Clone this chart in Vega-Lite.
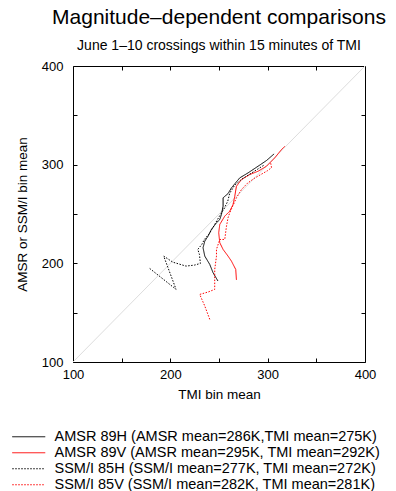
{
  "$schema": "https://vega.github.io/schema/vega-lite/v6.json",
  "width": 292,
  "height": 296,
  "autosize": {"type": "none"},
  "padding": {"left": 73, "top": 66, "right": 31, "bottom": 129},
  "background": "white",
  "config": {
    "font": "Liberation Sans",
    "view": {"stroke": "black", "strokeWidth": 1},
    "axis": {"grid": false, "domain": false, "labelFont": "Liberation Sans", "titleFont": "Liberation Sans", "labelColor": "black", "titleColor": "black", "tickColor": "black", "titleFontWeight": "normal"}
  },
  "title": {
    "text": "Magnitude–dependent comparisons",
    "subtitle": "June 1–10 crossings within 15 minutes of TMI",
    "fontSize": 21,
    "fontWeight": "normal",
    "subtitleFontSize": 14,
    "subtitleFont": "Liberation Sans",
    "color": "black",
    "subtitleColor": "black",
    "anchor": "middle",
    "offset": 7,
    "subtitlePadding": 11
  },
  "datasets": {
    "diag": [{"t": 100, "v": 100}, {"t": 400, "v": 400}],
    "series": [
      {"s": "AMSR 89H (AMSR mean=286K,TMI mean=275K)", "i": 1, "t": 248.9, "v": 182.1},
      {"s": "AMSR 89H (AMSR mean=286K,TMI mean=275K)", "i": 2, "t": 243.9, "v": 190.5},
      {"s": "AMSR 89H (AMSR mean=286K,TMI mean=275K)", "i": 3, "t": 240.5, "v": 198.9},
      {"s": "AMSR 89H (AMSR mean=286K,TMI mean=275K)", "i": 4, "t": 235.4, "v": 207.3},
      {"s": "AMSR 89H (AMSR mean=286K,TMI mean=275K)", "i": 5, "t": 233.6, "v": 215.8},
      {"s": "AMSR 89H (AMSR mean=286K,TMI mean=275K)", "i": 6, "t": 235.4, "v": 222.5},
      {"s": "AMSR 89H (AMSR mean=286K,TMI mean=275K)", "i": 7, "t": 238.7, "v": 227.5},
      {"s": "AMSR 89H (AMSR mean=286K,TMI mean=275K)", "i": 8, "t": 242.2, "v": 234.3},
      {"s": "AMSR 89H (AMSR mean=286K,TMI mean=275K)", "i": 9, "t": 247.4, "v": 241.1},
      {"s": "AMSR 89H (AMSR mean=286K,TMI mean=275K)", "i": 10, "t": 250.8, "v": 244.4},
      {"s": "AMSR 89H (AMSR mean=286K,TMI mean=275K)", "i": 11, "t": 252.5, "v": 249.5},
      {"s": "AMSR 89H (AMSR mean=286K,TMI mean=275K)", "i": 12, "t": 254.2, "v": 257.9},
      {"s": "AMSR 89H (AMSR mean=286K,TMI mean=275K)", "i": 13, "t": 254.2, "v": 266.4},
      {"s": "AMSR 89H (AMSR mean=286K,TMI mean=275K)", "i": 14, "t": 259.3, "v": 270.7},
      {"s": "AMSR 89H (AMSR mean=286K,TMI mean=275K)", "i": 15, "t": 262.8, "v": 276.5},
      {"s": "AMSR 89H (AMSR mean=286K,TMI mean=275K)", "i": 16, "t": 271.3, "v": 286.6},
      {"s": "AMSR 89H (AMSR mean=286K,TMI mean=275K)", "i": 17, "t": 279.9, "v": 291.7},
      {"s": "AMSR 89H (AMSR mean=286K,TMI mean=275K)", "i": 18, "t": 290.1, "v": 298.4},
      {"s": "AMSR 89H (AMSR mean=286K,TMI mean=275K)", "i": 19, "t": 298.8, "v": 304.2},
      {"s": "AMSR 89H (AMSR mean=286K,TMI mean=275K)", "i": 20, "t": 306.6, "v": 310.9},

      {"s": "AMSR 89V (AMSR mean=295K, TMI mean=292K)", "i": 1, "t": 267.9, "v": 183.3},
      {"s": "AMSR 89V (AMSR mean=295K, TMI mean=292K)", "i": 2, "t": 267.2, "v": 193.8},
      {"s": "AMSR 89V (AMSR mean=295K, TMI mean=292K)", "i": 3, "t": 262.8, "v": 202.2},
      {"s": "AMSR 89V (AMSR mean=295K, TMI mean=292K)", "i": 4, "t": 259.3, "v": 207.3},
      {"s": "AMSR 89V (AMSR mean=295K, TMI mean=292K)", "i": 5, "t": 254.2, "v": 214.1},
      {"s": "AMSR 89V (AMSR mean=295K, TMI mean=292K)", "i": 6, "t": 250.8, "v": 220.9},
      {"s": "AMSR 89V (AMSR mean=295K, TMI mean=292K)", "i": 7, "t": 249.7, "v": 231.0},
      {"s": "AMSR 89V (AMSR mean=295K, TMI mean=292K)", "i": 8, "t": 250.8, "v": 239.4},
      {"s": "AMSR 89V (AMSR mean=295K, TMI mean=292K)", "i": 9, "t": 255.9, "v": 247.8},
      {"s": "AMSR 89V (AMSR mean=295K, TMI mean=292K)", "i": 10, "t": 261.0, "v": 252.8},
      {"s": "AMSR 89V (AMSR mean=295K, TMI mean=292K)", "i": 11, "t": 264.4, "v": 259.6},
      {"s": "AMSR 89V (AMSR mean=295K, TMI mean=292K)", "i": 12, "t": 266.2, "v": 268.0},
      {"s": "AMSR 89V (AMSR mean=295K, TMI mean=292K)", "i": 13, "t": 267.9, "v": 278.1},
      {"s": "AMSR 89V (AMSR mean=295K, TMI mean=292K)", "i": 14, "t": 273.1, "v": 284.9},
      {"s": "AMSR 89V (AMSR mean=295K, TMI mean=292K)", "i": 15, "t": 281.6, "v": 290.0},
      {"s": "AMSR 89V (AMSR mean=295K, TMI mean=292K)", "i": 16, "t": 290.1, "v": 293.3},
      {"s": "AMSR 89V (AMSR mean=295K, TMI mean=292K)", "i": 17, "t": 298.8, "v": 298.4},
      {"s": "AMSR 89V (AMSR mean=295K, TMI mean=292K)", "i": 18, "t": 307.3, "v": 306.9},
      {"s": "AMSR 89V (AMSR mean=295K, TMI mean=292K)", "i": 19, "t": 314.2, "v": 315.3},
      {"s": "AMSR 89V (AMSR mean=295K, TMI mean=292K)", "i": 20, "t": 317.6, "v": 318.6},

      {"s": "SSM/I 85H (SSM/I mean=277K, TMI mean=272K)", "i": 1, "t": 178.8, "v": 194.8},
      {"s": "SSM/I 85H (SSM/I mean=277K, TMI mean=272K)", "i": 2, "t": 205.9, "v": 173.6},
      {"s": "SSM/I 85H (SSM/I mean=277K, TMI mean=272K)", "i": 3, "t": 193.2, "v": 207.3},
      {"s": "SSM/I 85H (SSM/I mean=277K, TMI mean=272K)", "i": 4, "t": 202.5, "v": 201.2},
      {"s": "SSM/I 85H (SSM/I mean=277K, TMI mean=272K)", "i": 5, "t": 216.1, "v": 197.2},
      {"s": "SSM/I 85H (SSM/I mean=277K, TMI mean=272K)", "i": 6, "t": 224.8, "v": 198.2},
      {"s": "SSM/I 85H (SSM/I mean=277K, TMI mean=272K)", "i": 7, "t": 230.9, "v": 199.9},
      {"s": "SSM/I 85H (SSM/I mean=277K, TMI mean=272K)", "i": 8, "t": 229.9, "v": 209.0},
      {"s": "SSM/I 85H (SSM/I mean=277K, TMI mean=272K)", "i": 9, "t": 228.2, "v": 214.1},
      {"s": "SSM/I 85H (SSM/I mean=277K, TMI mean=272K)", "i": 10, "t": 232.3, "v": 219.1},
      {"s": "SSM/I 85H (SSM/I mean=277K, TMI mean=272K)", "i": 11, "t": 235.0, "v": 224.2},
      {"s": "SSM/I 85H (SSM/I mean=277K, TMI mean=272K)", "i": 12, "t": 240.0, "v": 230.0},
      {"s": "SSM/I 85H (SSM/I mean=277K, TMI mean=272K)", "i": 13, "t": 245.6, "v": 239.4},
      {"s": "SSM/I 85H (SSM/I mean=277K, TMI mean=272K)", "i": 14, "t": 250.0, "v": 247.0},
      {"s": "SSM/I 85H (SSM/I mean=277K, TMI mean=272K)", "i": 15, "t": 255.0, "v": 255.0},
      {"s": "SSM/I 85H (SSM/I mean=277K, TMI mean=272K)", "i": 16, "t": 259.0, "v": 263.0},
      {"s": "SSM/I 85H (SSM/I mean=277K, TMI mean=272K)", "i": 17, "t": 261.0, "v": 271.0},
      {"s": "SSM/I 85H (SSM/I mean=277K, TMI mean=272K)", "i": 18, "t": 266.0, "v": 279.0},
      {"s": "SSM/I 85H (SSM/I mean=277K, TMI mean=272K)", "i": 19, "t": 273.0, "v": 285.0},
      {"s": "SSM/I 85H (SSM/I mean=277K, TMI mean=272K)", "i": 20, "t": 281.0, "v": 290.0},
      {"s": "SSM/I 85H (SSM/I mean=277K, TMI mean=272K)", "i": 21, "t": 289.0, "v": 295.0},
      {"s": "SSM/I 85H (SSM/I mean=277K, TMI mean=272K)", "i": 22, "t": 297.0, "v": 300.0},

      {"s": "SSM/I 85V (SSM/I mean=282K, TMI mean=281K)", "i": 1, "t": 240.5, "v": 143.2},
      {"s": "SSM/I 85V (SSM/I mean=282K, TMI mean=281K)", "i": 2, "t": 235.4, "v": 156.7},
      {"s": "SSM/I 85V (SSM/I mean=282K, TMI mean=281K)", "i": 3, "t": 230.2, "v": 168.5},
      {"s": "SSM/I 85V (SSM/I mean=282K, TMI mean=281K)", "i": 4, "t": 238.7, "v": 170.9},
      {"s": "SSM/I 85V (SSM/I mean=282K, TMI mean=281K)", "i": 5, "t": 245.6, "v": 173.6},
      {"s": "SSM/I 85V (SSM/I mean=282K, TMI mean=281K)", "i": 6, "t": 245.6, "v": 183.7},
      {"s": "SSM/I 85V (SSM/I mean=282K, TMI mean=281K)", "i": 7, "t": 245.6, "v": 193.8},
      {"s": "SSM/I 85V (SSM/I mean=282K, TMI mean=281K)", "i": 8, "t": 247.4, "v": 207.3},
      {"s": "SSM/I 85V (SSM/I mean=282K, TMI mean=281K)", "i": 9, "t": 247.4, "v": 214.1},
      {"s": "SSM/I 85V (SSM/I mean=282K, TMI mean=281K)", "i": 10, "t": 250.8, "v": 224.2},
      {"s": "SSM/I 85V (SSM/I mean=282K, TMI mean=281K)", "i": 11, "t": 255.9, "v": 224.2},
      {"s": "SSM/I 85V (SSM/I mean=282K, TMI mean=281K)", "i": 12, "t": 257.7, "v": 237.7},
      {"s": "SSM/I 85V (SSM/I mean=282K, TMI mean=281K)", "i": 13, "t": 259.3, "v": 246.2},
      {"s": "SSM/I 85V (SSM/I mean=282K, TMI mean=281K)", "i": 14, "t": 261.0, "v": 251.2},
      {"s": "SSM/I 85V (SSM/I mean=282K, TMI mean=281K)", "i": 15, "t": 267.9, "v": 266.4},
      {"s": "SSM/I 85V (SSM/I mean=282K, TMI mean=281K)", "i": 16, "t": 273.1, "v": 274.8},
      {"s": "SSM/I 85V (SSM/I mean=282K, TMI mean=281K)", "i": 17, "t": 279.0, "v": 281.0},
      {"s": "SSM/I 85V (SSM/I mean=282K, TMI mean=281K)", "i": 18, "t": 286.0, "v": 286.0},
      {"s": "SSM/I 85V (SSM/I mean=282K, TMI mean=281K)", "i": 19, "t": 293.0, "v": 290.0},
      {"s": "SSM/I 85V (SSM/I mean=282K, TMI mean=281K)", "i": 20, "t": 300.0, "v": 294.0},
      {"s": "SSM/I 85V (SSM/I mean=282K, TMI mean=281K)", "i": 21, "t": 304.0, "v": 297.0},
      {"s": "SSM/I 85V (SSM/I mean=282K, TMI mean=281K)", "i": 22, "t": 303.0, "v": 302.0}
    ]
  },
  "layer": [
    {
      "data": {"name": "diag"},
      "mark": {"type": "line", "color": "#dddddd", "strokeWidth": 1},
      "encoding": {
        "x": {"field": "t", "type": "quantitative", "scale": {"domain": [100, 400], "nice": false, "zero": false},
          "axis": {"orient": "bottom", "title": "TMI bin mean", "values": [100, 150, 200, 250, 300, 350, 400],
            "labelExpr": "datum.value % 100 === 0 ? datum.label : ''", "tickSize": -4, "labelPadding": 10,
            "labelFontSize": 13, "titleFontSize": 13.5, "titlePadding": 6, "labelFlush": false}},
        "y": {"field": "v", "type": "quantitative", "scale": {"domain": [100, 400], "nice": false, "zero": false},
          "axis": {"orient": "left", "title": "AMSR or SSM/I bin mean", "values": [100, 150, 200, 250, 300, 350, 400],
            "labelExpr": "datum.value % 100 === 0 ? datum.label : ''", "tickSize": -4, "labelPadding": 14,
            "labelFontSize": 13, "titleFontSize": 13.5, "titlePadding": 12, "labelFlush": false}}
      }
    },
    {
      "data": {"name": "series"},
      "mark": {"type": "line", "strokeWidth": 1},
      "encoding": {
        "x": {"field": "t", "type": "quantitative",
          "axis": {"orient": "top", "title": null, "labels": false, "values": [150, 200, 250, 300, 350], "tickSize": -4}},
        "y": {"field": "v", "type": "quantitative",
          "axis": {"orient": "right", "title": null, "labels": false, "values": [150, 200, 250, 300, 350], "tickSize": -4}},
        "order": {"field": "i", "type": "quantitative"},
        "color": {"field": "s", "type": "nominal",
          "scale": {"domain": ["AMSR 89H (AMSR mean=286K,TMI mean=275K)", "AMSR 89V (AMSR mean=295K, TMI mean=292K)", "SSM/I 85H (SSM/I mean=277K, TMI mean=272K)", "SSM/I 85V (SSM/I mean=282K, TMI mean=281K)"],
            "range": ["#000000", "#ff0000", "#000000", "#ff0000"]},
          "legend": {"orient": "none", "legendX": -51.5, "legendY": 363.5, "padding": 0, "title": null,
            "symbolType": "M-3.3,0H3.3", "symbolSize": 100, "symbolStrokeWidth": 1,
            "labelFontSize": 14.5, "labelFont": "Liberation Sans", "labelColor": "black", "rowPadding": 1, "labelOffset": 18.5, "labelLimit": 400}},
        "strokeDash": {"field": "s", "type": "nominal",
          "scale": {"domain": ["AMSR 89H (AMSR mean=286K,TMI mean=275K)", "AMSR 89V (AMSR mean=295K, TMI mean=292K)", "SSM/I 85H (SSM/I mean=277K, TMI mean=272K)", "SSM/I 85V (SSM/I mean=282K, TMI mean=281K)"],
            "range": [[1, 0], [1, 0], [1.5, 1.5], [1.5, 1.5]]}}
      }
    }
  ],
  "resolve": {"axis": {"x": "independent", "y": "independent"}}
}
